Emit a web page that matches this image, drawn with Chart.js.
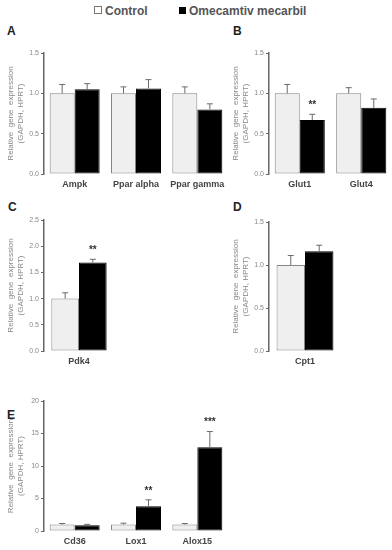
<!DOCTYPE html>
<html>
<head>
<meta charset="utf-8">
<script src="https://cdn.jsdelivr.net/npm/chart.js@4.4.0/dist/chart.umd.min.js"></script>
<style>
  body { margin: 0; background: #fff; width: 392px; height: 550px; position: relative; overflow: hidden;
         font-family: "Liberation Sans", Arial, sans-serif; }
  canvas { position: absolute; }
  .letter { position: absolute; font-weight: bold; font-size: 12px; color: #222; line-height: 12px; }
  .legend { position: absolute; top: 4px; font-weight: bold; font-size: 12px; color: #555; line-height: 14px; }
  .box { display: inline-block; width: 6px; height: 6px; margin-right: 3px; vertical-align: 1px; }
</style>
</head>
<body>
<div class="legend" style="left:94px"><span class="box" style="border:1px solid #777;background:#fff"></span>Control</div>
<div class="legend" style="left:179px"><span class="box" style="width:7px;height:7px;background:#000"></span>Omecamtiv mecarbil</div>

<div class="letter" style="left:7px;top:25px">A</div>
<div class="letter" style="left:233px;top:25px">B</div>
<div class="letter" style="left:8px;top:201px">C</div>
<div class="letter" style="left:233px;top:201px">D</div>
<div class="letter" style="left:7px;top:409px">E</div>

<canvas id="chartA" width="232" height="155" style="left:0;top:40px"></canvas>
<canvas id="chartB" width="167" height="155" style="left:225px;top:40px"></canvas>
<canvas id="chartC" width="118" height="167" style="left:0;top:205px"></canvas>
<canvas id="chartD" width="120" height="167" style="left:225px;top:205px"></canvas>
<canvas id="chartE" width="232" height="162" style="left:0;top:388px"></canvas>

<script>
// panel A
const labelsA = ['Ampk', 'Ppar alpha', 'Ppar gamma'];
const controlA = [1.0, 1.0, 1.0];
const controlErrA = [0.11, 0.08, 0.08];
const omecA = [1.05, 1.06, 0.80];
const omecErrA = [0.07, 0.11, 0.07];
const starsA = ['', '', ''];

// panel B
const labelsB = ['Glut1', 'Glut4'];
const controlB = [1.0, 1.0];
const controlErrB = [0.11, 0.07];
const omecB = [0.67, 0.82];
const omecErrB = [0.07, 0.11];
const starsB = ['**', ''];

// panel C
const labelsC = ['Pdk4'];
const controlC = [1.0];
const controlErrC = [0.11];
const omecC = [1.69];
const omecErrC = [0.06];
const starsC = ['**'];

// panel D
const labelsD = ['Cpt1'];
const controlD = [1.0];
const controlErrD = [0.11];
const omecD = [1.16];
const omecErrD = [0.07];
const starsD = [''];

// panel E
const labelsE = ['Cd36', 'Lox1', 'Alox15'];
const controlE = [1.0, 1.0, 1.0];
const controlErrE = [0.15, 0.2, 0.15];
const omecE = [0.9, 3.8, 12.9];
const omecErrE = [0.12, 1.0, 2.4];
const starsE = ['', '**', '***'];

const yTitle = ['Relative  gene  expression', '(GAPDH, HPRT)'];

// upward-only error bars plus significance stars
const errorBars = {
  id: 'errorBars',
  afterDatasetsDraw(chart) {
    const ctx = chart.ctx;
    const y = chart.scales.y;
    ctx.save();
    chart.data.datasets.forEach((ds, di) => {
      const meta = chart.getDatasetMeta(di);
      meta.data.forEach((bar, i) => {
        const top = y.getPixelForValue(ds.data[i] + ds.errors[i]);
        ctx.strokeStyle = '#6a6a6a';
        ctx.lineWidth = 1;
        ctx.beginPath();
        ctx.moveTo(bar.x, bar.y);
        ctx.lineTo(bar.x, top);
        ctx.moveTo(bar.x - 3, top);
        ctx.lineTo(bar.x + 3, top);
        ctx.stroke();
        if (ds.stars && ds.stars[i]) {
          ctx.fillStyle = '#333';
          ctx.font = 'bold 10px "Liberation Sans", Arial, sans-serif';
          ctx.textAlign = 'center';
          ctx.textBaseline = 'middle';
          ctx.fillText(ds.stars[i], bar.x, top - 9);
        }
      });
    });
    ctx.restore();
  }
};

function makeChart(id, labels, ctrl, ctrlErr, omec, omecErr, stars, yMax, step, opts) {
  return new Chart(document.getElementById(id), {
    type: 'bar',
    data: {
      labels: labels,
      datasets: [
        {
          label: 'Control',
          data: ctrl,
          errors: ctrlErr,
          backgroundColor: '#efefef',
          borderColor: '#858585',
          borderWidth: 1,
          borderSkipped: false,
        },
        {
          label: 'Omecamtiv mecarbil',
          data: omec,
          errors: omecErr,
          stars: stars,
          backgroundColor: '#000',
          borderColor: '#000',
          borderWidth: 1,
          borderSkipped: false,
        },
      ],
    },
    options: {
      responsive: false,
      animation: false,
      layout: { padding: { top: opts.top, right: opts.right, left: 0, bottom: 0 } },
      plugins: { legend: { display: false }, tooltip: { enabled: false } },
      datasets: { bar: { categoryPercentage: opts.cat, barPercentage: 1 } },
      scales: {
        x: {
          grid: { display: false, drawTicks: false },
          border: { display: false },
          ticks: {
            color: '#444',
            padding: 5,
            maxRotation: 0,
            autoSkip: false,
            font: { family: '"Liberation Sans", Arial, sans-serif', size: 9, weight: 'bold' },
          },
          afterFit: (s) => { s.height = opts.xh; },
        },
        y: {
          min: 0,
          max: yMax,
          ticks: {
            stepSize: step,
            color: '#888',
            padding: 2,
            font: { family: '"Liberation Sans", Arial, sans-serif', size: 7 },
            callback: (v) => (step < 1 ? v.toFixed(1) : v),
          },
          grid: { drawOnChartArea: false, drawTicks: true, tickLength: 3, color: '#666', lineWidth: 1 },
          border: { display: true, color: '#666', width: 1.5 },
          title: {
            display: true,
            text: yTitle,
            color: '#888',
            padding: { top: 6, bottom: 0 },
            font: { family: '"Liberation Sans", Arial, sans-serif', size: 8, lineHeight: 1.25 },
          },
          afterFit: (s) => { s.width = 44; },
        },
      },
    },
    plugins: [errorBars],
  });
}

makeChart('chartA', labelsA, controlA, controlErrA, omecA, omecErrA, starsA, 1.5, 0.5,
  { top: 13, right: 4, xh: 21, cat: 0.815 });
makeChart('chartB', labelsB, controlB, controlErrB, omecB, omecErrB, starsB, 1.5, 0.5,
  { top: 13, right: 0, xh: 21, cat: 0.815 });
makeChart('chartC', labelsC, controlC, controlErrC, omecC, omecErrC, starsC, 2.5, 0.5,
  { top: 15, right: 4, xh: 21, cat: 0.79 });
makeChart('chartD', labelsD, controlD, controlErrD, omecD, omecErrD, starsD, 1.5, 0.5,
  { top: 17, right: 4, xh: 21, cat: 0.79 });
makeChart('chartE', labelsE, controlE, controlErrE, omecE, omecErrE, starsE, 20, 5,
  { top: 13, right: 4, xh: 19, cat: 0.815 });
</script>
</body>
</html>
